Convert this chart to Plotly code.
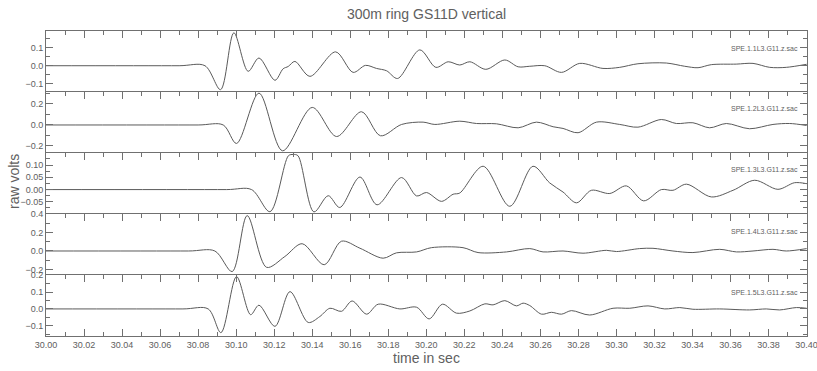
import plotly.graph_objects as go
from plotly.subplots import make_subplots

# ---------------- data (time offsets from 30 s, raw volts) ----------------
t1 = [0.0, 0.070, 0.0836, 0.0918, 0.0988, 0.1063, 0.1120, 0.1204, 0.1247, 0.1274, 0.1309,
      0.1388, 0.1523, 0.1615, 0.1680, 0.1738, 0.1791, 0.1849, 0.1966, 0.2050, 0.2115,
      0.2176, 0.2229, 0.2313, 0.2413, 0.2483, 0.2544, 0.2623, 0.2711, 0.2807, 0.2929,
      0.3017, 0.3113, 0.3262, 0.3359, 0.3429, 0.3499, 0.3630, 0.3718, 0.3806, 0.3893, 0.4000]
v1 = [0.0, 0.0, 0.0, -0.133, 0.183, -0.031, 0.043, -0.081, -0.017, -0.004, 0.024,
      -0.059, 0.077, -0.037, 0.002, -0.015, -0.028, -0.071, 0.088, -0.009, 0.022,
      0.004, 0.022, -0.020, 0.032, -0.006, -0.003, 0.000, -0.037, 0.013, -0.015,
      -0.009, 0.011, 0.015, -0.003, -0.011, 0.006, 0.009, 0.013, -0.009, -0.009, 0.008]

t2 = [0.0, 0.080, 0.0932, 0.1002, 0.1120, 0.1244, 0.1400, 0.1528, 0.1659, 0.1759, 0.1870,
      0.1983, 0.2045, 0.2176, 0.2264, 0.2369, 0.2483, 0.2579, 0.2667, 0.2719, 0.2798,
      0.2895, 0.3017, 0.3113, 0.3236, 0.3315, 0.3402, 0.3490, 0.3578, 0.3700, 0.3823,
      0.3911, 0.4000]
v2 = [0.0, 0.0, 0.0, -0.176, 0.303, -0.246, 0.167, -0.110, 0.126, -0.103, 0.005,
      0.027, 0.005, 0.036, 0.014, 0.011, -0.027, 0.027, -0.017, -0.033, -0.074,
      0.027, 0.005, -0.021, 0.052, 0.014, 0.021, -0.027, 0.014, -0.036, 0.005,
      0.014, -0.005]

t3 = [0.0, 0.095, 0.1081, 0.1178, 0.1275, 0.1300, 0.1325, 0.1409, 0.1484, 0.1545, 0.1651,
      0.1741, 0.1870, 0.1949, 0.2001, 0.2080, 0.2141, 0.2176, 0.2299, 0.2439, 0.2561,
      0.2649, 0.2719, 0.2790, 0.2868, 0.2965, 0.3052, 0.3143, 0.3236, 0.3297, 0.3368,
      0.3499, 0.3613, 0.3727, 0.3849, 0.3937, 0.4000]
v3 = [0.0, 0.0, 0.0, -0.090, 0.138, 0.143, 0.138, -0.091, -0.025, -0.073, 0.051,
      -0.062, 0.049, -0.026, -0.012, -0.048, -0.019, -0.014, 0.095, -0.068, 0.095,
      0.027, -0.010, -0.054, -0.003, -0.016, 0.015, -0.046, 0.000, -0.003, 0.022,
      -0.030, -0.003, 0.038, 0.001, 0.028, 0.024]

t4 = [0.0, 0.075, 0.0888, 0.0979, 0.1058, 0.1160, 0.1256, 0.1347, 0.1463, 0.1554, 0.1651,
      0.1773, 0.1843, 0.1949, 0.2027, 0.2193, 0.2272, 0.2422, 0.2544, 0.2614, 0.2719,
      0.2824, 0.2947, 0.3000, 0.3122, 0.3192, 0.3297, 0.3402, 0.3543, 0.3631, 0.3718,
      0.3823, 0.3893, 0.4000]
v4 = [0.0, 0.0, 0.0, -0.223, 0.383, -0.177, -0.060, 0.079, -0.149, 0.106, 0.030,
      -0.078, -0.020, -0.010, 0.036, 0.036, -0.017, -0.010, 0.026, -0.010, 0.000,
      -0.024, 0.007, -0.006, 0.026, 0.029, 0.000, -0.017, 0.018, -0.010, 0.000,
      0.018, 0.000, 0.026]

t5 = [0.0, 0.072, 0.0853, 0.0920, 0.1002, 0.1076, 0.1120, 0.1204, 0.1283, 0.1379, 0.1440,
      0.1493, 0.1554, 0.1610, 0.1686, 0.1747, 0.1861, 0.1949, 0.2015, 0.2085, 0.2159,
      0.2229, 0.2308, 0.2351, 0.2413, 0.2474, 0.2509, 0.2544, 0.2606, 0.2658, 0.2711,
      0.2763, 0.2859, 0.2982, 0.3070, 0.3166, 0.3254, 0.3333, 0.3402, 0.3543, 0.3700,
      0.3788, 0.3858, 0.3946, 0.4000]
v5 = [0.0, 0.0, 0.0, -0.140, 0.191, -0.034, 0.022, -0.103, 0.102, -0.080, -0.045,
      0.004, -0.014, 0.047, -0.031, 0.028, 0.000, 0.010, -0.059, 0.028, -0.025,
      -0.012, 0.030, 0.024, 0.049, 0.018, 0.034, 0.020, -0.031, -0.020, -0.031,
      -0.010, -0.036, 0.004, 0.004, 0.018, 0.000, 0.008, -0.002, 0.000, -0.006,
      0.000, -0.006, 0.008, 0.004]

T0 = 30.0
times = [t1, t2, t3, t4, t5]
values = [v1, v2, v3, v4, v5]
labels = ["SPE.1.1L3.G11.z.sac", "SPE.1.2L3.G11.z.sac", "SPE.1.3L3.G11.z.sac",
          "SPE.1.4L3.G11.z.sac", "SPE.1.5L3.G11.z.sac"]
y_ranges = [[-0.146, 0.193], [-0.267, 0.314], [-0.0995, 0.149], [-0.26, 0.4005], [-0.16, 0.2005]]
y_dticks = [0.1, 0.2, 0.05, 0.2, 0.1]
y_formats = [".1f", ".1f", ".2f", ".1f", ".1f"]

title_text = "300m ring GS11D vertical"
x_title = "time in sec"
y_title = "raw volts"

# ---------------- figure ----------------
LINE = "#5a5a5a"
AX = "#707070"
TXT = "#606060"
FONT = "Liberation Sans"

fig = make_subplots(rows=5, cols=1, shared_xaxes=True, vertical_spacing=0)

for i in range(5):
    fig.add_trace(go.Scatter(
        x=[T0 + t for t in times[i]], y=values[i], mode="lines",
        line=dict(color=LINE, width=1, shape="spline", smoothing=0.9),
        showlegend=False, hoverinfo="skip"), row=i + 1, col=1)

    last = (i == 4)
    fig.update_xaxes(
        row=i + 1, col=1, range=[30.0, 30.4002], showgrid=False, zeroline=False,
        showline=True, linecolor=AX, linewidth=1, automargin=False,
        side="bottom" if last else "top",
        mirror="ticks" if last else False,
        ticks="inside", ticklen=7, tickcolor=AX, dtick=0.02, tick0=30.0,
        minor=dict(dtick=0.01, ticks="inside", ticklen=4, tickcolor=AX, showgrid=False),
        showticklabels=last, tickformat=".2f", ticklabeloverflow="allow",
        tickfont=dict(family=FONT, size=9, color=TXT))

    d = y_dticks[i]
    fig.update_yaxes(
        row=i + 1, col=1, range=y_ranges[i], showgrid=False, zeroline=False,
        showline=True, linecolor=AX, linewidth=1, mirror="ticks", automargin=False,
        ticks="inside", ticklen=7, tickcolor=AX, dtick=d, tick0=0,
        minor=dict(dtick=d / 2, ticks="inside", ticklen=4, tickcolor=AX, showgrid=False),
        tickformat=y_formats[i], ticklabeloverflow="allow",
        tickfont=dict(family=FONT, size=9, color=TXT))

    fig.add_annotation(
        text=labels[i], xref="paper", x=0.991, xanchor="right",
        yref=f"y{'' if i == 0 else i + 1} domain", y=1, yshift=-17, yanchor="middle",
        showarrow=False, font=dict(family=FONT, size=7, color=TXT))

fig.add_annotation(text=x_title, xref="paper", x=0.5, yref="paper", y=0, yshift=-22,
                   yanchor="middle", showarrow=False,
                   font=dict(family=FONT, size=14, color=TXT))
fig.add_annotation(text=y_title, xref="paper", x=0, xshift=-32, xanchor="center",
                   yref="paper", y=0.505, yanchor="middle", textangle=-90, showarrow=False,
                   font=dict(family=FONT, size=14, color=TXT))

fig.update_layout(
    width=817, height=371,
    margin=dict(l=46, r=10, t=31, b=35, autoexpand=False),
    paper_bgcolor="white", plot_bgcolor="white",
    title=dict(text=title_text, x=0.5, xanchor="center", xref="paper",
               y=1 - 14 / 371, yanchor="middle",
               font=dict(family=FONT, size=14, color=TXT)),
)

fig.write_html("out.html")
